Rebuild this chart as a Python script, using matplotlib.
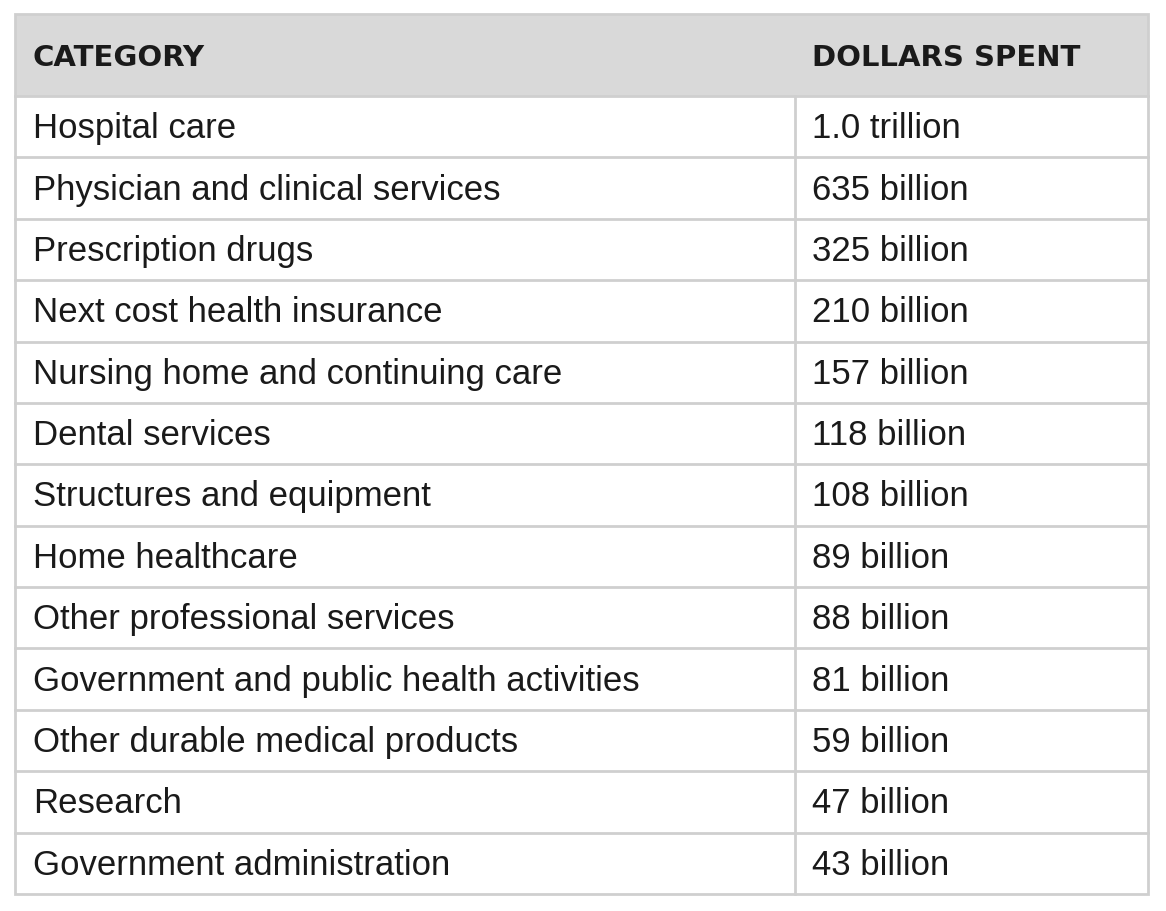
import matplotlib
matplotlib.use("Agg")
import matplotlib.pyplot as plt
from matplotlib.patches import Rectangle

headers = ["CATEGORY", "DOLLARS SPENT"]
categories = ["Hospital care", "Physician and clinical services", "Prescription drugs",
              "Next cost health insurance", "Nursing home and continuing care", "Dental services",
              "Structures and equipment", "Home healthcare", "Other professional services",
              "Government and public health activities", "Other durable medical products",
              "Research", "Government administration"]
amounts = ["1.0 trillion", "635 billion", "325 billion", "210 billion", "157 billion",
           "118 billion", "108 billion", "89 billion", "88 billion", "81 billion",
           "59 billion", "47 billion", "43 billion"]

W, H = 1166, 912
fig = plt.figure(figsize=(W/100, H/100), dpi=100)
ax = fig.add_axes([0, 0, 1, 1])
ax.set_xlim(0, W); ax.set_ylim(H, 0); ax.axis("off")

left, right, top, bottom = 15, 1148, 15, 895
colx = 795
hdr_bottom = 97
n = len(categories)
rh = (bottom - hdr_bottom) / n
grid = "#cfcfcf"

ax.add_patch(Rectangle((left, top), right-left, hdr_bottom-top, facecolor="#d9d9d9", edgecolor="none"))
ax.add_patch(Rectangle((left, top), right-left, bottom-top, facecolor="none", edgecolor=grid, lw=2))
ax.plot([colx, colx], [hdr_bottom, bottom], color=grid, lw=2)
for i in range(n):
    y = hdr_bottom + i*rh
    ax.plot([left, right], [y, y], color=grid, lw=2)

hfont = dict(family=["DejaVu Sans"], fontweight="bold", fontsize=21, color="#1a1a1a")
ax.text(33, (top+hdr_bottom)/2 + 2, headers[0], va="center", ha="left", **hfont)
ax.text(812, (top+hdr_bottom)/2 + 2, headers[1], va="center", ha="left", **hfont)

bfont = dict(family=["Liberation Sans", "DejaVu Sans"], fontsize=25, color="#1a1a1a")
for i, (c, a) in enumerate(zip(categories, amounts)):
    yc = hdr_bottom + (i+0.5)*rh + 1
    ax.text(33, yc, c, va="center", ha="left", **bfont)
    ax.text(812, yc, a, va="center", ha="left", **bfont)

fig.savefig("out.png", dpi=100, facecolor="white")
